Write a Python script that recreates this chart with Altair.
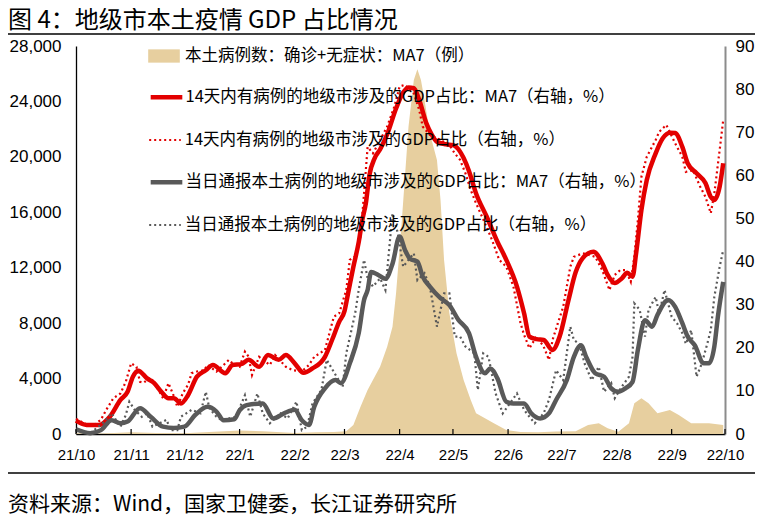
import altair as alt
import pandas as pd

CJK = "Noto Sans CJK SC"
NUM = "Liberation Sans"

TITLE = "图 4：地级市本土疫情 GDP 占比情况"
SOURCE = "资料来源：Wind，国家卫健委，长江证券研究所"

S_AREA = "本土病例数：确诊+无症状：MA7（例）"
S_RED_MA7 = "14天内有病例的地级市涉及的GDP占比：MA7（右轴，%）"
S_RED_RAW = "14天内有病例的地级市涉及的GDP占比（右轴，%）"
S_GRAY_MA7 = "当日通报本土病例的地级市涉及的GDP占比：MA7（右轴，%）"
S_GRAY_RAW = "当日通报本土病例的地级市涉及的GDP占比（右轴，%）"
TAN, RED, GRAY = "#E7CF9F", "#E30000", "#595959"
DOTS = [2, 3]

tick_dates = ["2021-10-01", "2021-11-01", "2021-12-01", "2022-01-01", "2022-02-01",
              "2022-03-01", "2022-04-01", "2022-05-01", "2022-06-01", "2022-07-01",
              "2022-08-01", "2022-09-01", "2022-10-01"]
left_ticks = [0, 4000, 8000, 12000, 16000, 20000, 24000, 28000]
right_ticks = [0, 10, 20, 30, 40, 50, 60, 70, 80, 90]

# 本土病例数 MA7（左轴）
cases_dates = ["2021-10-01", "2021-10-16", "2021-11-01", "2021-11-15", "2021-12-01", "2021-12-15",
               "2022-01-01", "2022-01-14", "2022-02-01", "2022-02-13", "2022-02-23",
               "2022-03-02", "2022-03-06", "2022-03-10", "2022-03-14", "2022-03-17", "2022-03-21",
               "2022-03-25", "2022-03-28", "2022-03-30",
               "2022-04-02", "2022-04-04", "2022-04-06", "2022-04-09", "2022-04-11", "2022-04-13",
               "2022-04-15", "2022-04-18", "2022-04-22", "2022-04-24", "2022-04-26", "2022-04-29",
               "2022-05-03", "2022-05-07", "2022-05-11", "2022-05-14", "2022-05-24", "2022-05-31",
               "2022-06-08", "2022-06-18", "2022-06-28",
               "2022-07-09", "2022-07-16", "2022-07-22", "2022-07-27",
               "2022-08-02", "2022-08-08", "2022-08-11", "2022-08-15", "2022-08-19", "2022-08-24",
               "2022-08-31", "2022-09-05", "2022-09-12", "2022-09-22", "2022-09-30"]
cases_values = [50, 30, 120, 80, 60, 150,
                250, 200, 80, 120, 150,
                200, 650, 1970, 3175, 3900, 4860,
                6300, 7740, 10150,
                14960, 18570, 22170, 25545, 26320, 25545,
                24100, 21700, 19770, 16900, 12560, 8710,
                5820, 3900, 2450, 1490, 770, 290,
                150, 120, 180,
                200, 650, 770, 410,
                170, 770, 2215, 2575, 2215, 1490,
                1730, 1370, 770, 770, 650]

# 14天内有病例的地级市涉及的GDP占比：MA7
red_ma7_dates = ["2021-10-01", "2021-10-07", "2021-10-14", "2021-10-20", "2021-10-26", "2021-10-30",
                 "2021-11-02", "2021-11-05", "2021-11-10", "2021-11-14", "2021-11-18", "2021-11-22",
                 "2021-11-25", "2021-11-29",
                 "2021-12-03", "2021-12-08", "2021-12-13", "2021-12-17", "2021-12-24", "2021-12-28",
                 "2022-01-02", "2022-01-06", "2022-01-12", "2022-01-17", "2022-01-23", "2022-01-27",
                 "2022-02-01", "2022-02-06", "2022-02-11", "2022-02-18", "2022-02-22", "2022-02-26",
                 "2022-03-01", "2022-03-03", "2022-03-06", "2022-03-09", "2022-03-11", "2022-03-13",
                 "2022-03-15", "2022-03-18", "2022-03-21", "2022-03-25", "2022-03-30",
                 "2022-04-03", "2022-04-06", "2022-04-09", "2022-04-12", "2022-04-16", "2022-04-19",
                 "2022-04-22", "2022-04-27",
                 "2022-05-01", "2022-05-05", "2022-05-07", "2022-05-10", "2022-05-14", "2022-05-20",
                 "2022-05-26", "2022-05-31",
                 "2022-06-06", "2022-06-10", "2022-06-13", "2022-06-17", "2022-06-21", "2022-06-26",
                 "2022-06-30",
                 "2022-07-05", "2022-07-09", "2022-07-13", "2022-07-19", "2022-07-24", "2022-07-27",
                 "2022-07-31",
                 "2022-08-04", "2022-08-07", "2022-08-10", "2022-08-12", "2022-08-15", "2022-08-18",
                 "2022-08-23", "2022-08-27", "2022-08-31",
                 "2022-09-03", "2022-09-07", "2022-09-10", "2022-09-15", "2022-09-20", "2022-09-23",
                 "2022-09-25", "2022-09-28", "2022-09-30"]
red_ma7_values = [3.1, 2.1, 2.1, 4.0, 7.9, 9.8,
                  13.3, 14.7, 12.9, 11.8, 9.8, 8.3,
                  8.3, 7.1,
                  9.0, 13.3, 14.8, 16.0, 14.1, 16.0,
                  16.2, 17.2, 15.6, 18.3, 17.2, 18.3,
                  16.4, 14.2, 15.2, 17.9, 21.8, 26.0,
                  28.5, 32.6, 38.8, 44.5, 49.6, 53.5,
                  60.0, 64.0, 66.0, 69.5, 75.5,
                  79.2, 80.4, 80.2, 77.5, 72.1, 69.5,
                  67.8, 67.2,
                  67.0, 65.5, 64.0, 61.0, 55.8, 50.4,
                  44.6, 40.4,
                  34.2, 28.0, 22.6, 22.0, 21.8, 19.5,
                  22.6,
                  31.1, 37.5, 40.8, 42.3, 39.6, 36.9,
                  35.0,
                  36.1, 37.4, 36.5, 41.9, 52.0, 58.9,
                  65.1, 68.6, 69.9,
                  69.8, 66.6, 62.8, 60.5, 58.2, 55.0,
                  54.3, 57.4, 62.8]

# 14天内有病例的地级市涉及的GDP占比（日度）
red_raw_dates = ["2021-10-01", "2021-10-08", "2021-10-12", "2021-10-15", "2021-10-18", "2021-10-22",
                 "2021-10-26", "2021-10-29",
                 "2021-11-01", "2021-11-04", "2021-11-06", "2021-11-08", "2021-11-12", "2021-11-15",
                 "2021-11-19", "2021-11-22", "2021-11-25", "2021-11-27", "2021-11-30",
                 "2021-12-03", "2021-12-05", "2021-12-08", "2021-12-12", "2021-12-14", "2021-12-19",
                 "2021-12-23", "2021-12-26", "2021-12-28",
                 "2022-01-01", "2022-01-04", "2022-01-06", "2022-01-08", "2022-01-12", "2022-01-18",
                 "2022-01-21", "2022-01-27", "2022-01-31",
                 "2022-02-05", "2022-02-09", "2022-02-12", "2022-02-18", "2022-02-23", "2022-02-26",
                 "2022-03-02", "2022-03-04", "2022-03-07", "2022-03-10", "2022-03-12", "2022-03-14",
                 "2022-03-17", "2022-03-19", "2022-03-25", "2022-03-29",
                 "2022-04-01", "2022-04-04", "2022-04-09", "2022-04-12", "2022-04-14", "2022-04-18",
                 "2022-04-24", "2022-04-29",
                 "2022-05-02", "2022-05-05", "2022-05-08", "2022-05-11", "2022-05-14", "2022-05-19",
                 "2022-05-23", "2022-05-27", "2022-05-31",
                 "2022-06-04", "2022-06-08", "2022-06-10", "2022-06-13", "2022-06-17", "2022-06-21",
                 "2022-06-24", "2022-06-26", "2022-06-29",
                 "2022-07-02", "2022-07-06", "2022-07-08", "2022-07-13", "2022-07-16", "2022-07-20",
                 "2022-07-24", "2022-07-28", "2022-07-31",
                 "2022-08-03", "2022-08-06", "2022-08-09", "2022-08-11", "2022-08-13", "2022-08-15",
                 "2022-08-18", "2022-08-23", "2022-08-25", "2022-08-29",
                 "2022-09-03", "2022-09-07", "2022-09-09", "2022-09-13", "2022-09-17", "2022-09-20",
                 "2022-09-23", "2022-09-25", "2022-09-28", "2022-09-30"]
red_raw_values = [3.5, 2.0, 2.3, 3.3, 5.6, 8.3,
                  9.4, 12.1,
                  16.4, 15.6, 12.1, 11.9, 13.1, 11.2,
                  8.3, 11.8, 8.8, 6.3, 9.4,
                  11.4, 14.1, 14.5, 14.8, 16.0, 14.5,
                  16.0, 17.2, 16.4,
                  15.6, 19.1, 18.0, 13.7, 17.9, 16.0,
                  18.3, 15.6, 14.8,
                  14.5, 16.0, 17.9, 19.5, 27.2, 28.0,
                  33.4, 40.4, 41.2, 45.8, 55.8, 66.6,
                  65.1, 66.6, 71.3, 75.9,
                  80.6, 81.0, 79.0, 75.2, 71.3, 69.4,
                  68.2, 67.0,
                  65.1, 63.6, 60.5, 56.6, 53.5, 48.9,
                  45.0, 40.4, 38.8,
                  34.2, 25.7, 23.0, 19.9, 22.6, 20.3,
                  17.2, 21.8, 25.7,
                  29.5, 38.8, 41.1, 41.9, 41.6, 41.1,
                  38.0, 33.4, 36.9,
                  38.0, 38.0, 35.3, 41.1, 49.6, 59.7,
                  64.3, 68.2, 70.1, 71.7,
                  67.4, 64.3, 60.8, 61.2, 57.4, 55.0,
                  51.2, 55.8, 65.9, 72.8]

# 当日通报本土病例的地级市涉及的GDP占比：MA7
gray_ma7_dates = ["2021-10-01", "2021-10-09", "2021-10-15", "2021-10-21", "2021-10-26", "2021-10-30",
                  "2021-11-06", "2021-11-12", "2021-11-19", "2021-11-25",
                  "2021-12-01", "2021-12-07", "2021-12-14", "2021-12-19", "2021-12-23", "2021-12-29",
                  "2022-01-01", "2022-01-05", "2022-01-14", "2022-01-20", "2022-01-26",
                  "2022-02-01", "2022-02-05", "2022-02-09", "2022-02-12", "2022-02-18", "2022-02-24",
                  "2022-02-27",
                  "2022-03-04", "2022-03-09", "2022-03-12", "2022-03-14", "2022-03-16", "2022-03-20",
                  "2022-03-24", "2022-03-28",
                  "2022-04-01", "2022-04-04", "2022-04-07", "2022-04-11", "2022-04-14", "2022-04-18",
                  "2022-04-24", "2022-04-29",
                  "2022-05-04", "2022-05-10", "2022-05-14", "2022-05-19", "2022-05-22", "2022-05-26",
                  "2022-05-31",
                  "2022-06-04", "2022-06-10", "2022-06-14", "2022-06-19", "2022-06-24", "2022-06-28",
                  "2022-07-04", "2022-07-08", "2022-07-12", "2022-07-15", "2022-07-20", "2022-07-25",
                  "2022-07-29",
                  "2022-08-02", "2022-08-06", "2022-08-10", "2022-08-13", "2022-08-17", "2022-08-21",
                  "2022-08-24", "2022-08-30",
                  "2022-09-03", "2022-09-07", "2022-09-10", "2022-09-14", "2022-09-19", "2022-09-22",
                  "2022-09-25", "2022-09-27", "2022-09-30"]
gray_ma7_values = [1.1, 0.2, 0.9, 3.2, 2.5, 2.9,
                   6.0, 4.0, 1.7, 1.4,
                   1.7, 4.4, 6.3, 5.2, 3.2, 3.4,
                   5.5, 6.7, 7.1, 3.6, 4.8,
                   5.6, 3.2, 2.1, 6.3, 10.6, 12.5,
                   11.8,
                   16.4, 23.4, 31.1, 33.4, 37.6, 36.9,
                   36.0, 39.5,
                   45.8, 42.7, 40.6, 40.0, 36.5, 34.2,
                   31.5, 29.9,
                   26.5, 23.4, 17.9, 14.1, 15.2, 12.9,
                   7.5,
                   7.1, 7.1, 4.8, 3.6, 4.8, 7.9,
                   12.5, 17.9, 20.6, 17.8, 14.1, 13.3,
                   10.6,
                   9.8, 10.6, 12.1, 19.5, 26.4, 24.9,
                   27.6, 31.1,
                   29.5, 25.7, 22.6, 20.6, 16.4, 16.4,
                   20.3, 27.2, 35.3]

# 当日通报本土病例的地级市涉及的GDP占比（日度）
gray_raw_dates = ["2021-10-01", "2021-10-09", "2021-10-16", "2021-10-21", "2021-10-26", "2021-10-29",
                  "2021-10-31",
                  "2021-11-03", "2021-11-07", "2021-11-10", "2021-11-13", "2021-11-17", "2021-11-21",
                  "2021-11-23", "2021-11-27", "2021-11-29",
                  "2021-12-02", "2021-12-05", "2021-12-10", "2021-12-13", "2021-12-15", "2021-12-19",
                  "2021-12-22", "2021-12-26", "2021-12-30",
                  "2022-01-04", "2022-01-07", "2022-01-11", "2022-01-14", "2022-01-18", "2022-01-24",
                  "2022-01-28",
                  "2022-02-02", "2022-02-05", "2022-02-08", "2022-02-11", "2022-02-16", "2022-02-19",
                  "2022-02-24", "2022-02-28",
                  "2022-03-02", "2022-03-07", "2022-03-09", "2022-03-12", "2022-03-14", "2022-03-17",
                  "2022-03-21", "2022-03-24", "2022-03-28", "2022-03-31",
                  "2022-04-03", "2022-04-06", "2022-04-09", "2022-04-11", "2022-04-15", "2022-04-18",
                  "2022-04-22", "2022-04-26", "2022-04-29",
                  "2022-05-02", "2022-05-05", "2022-05-08", "2022-05-13", "2022-05-15", "2022-05-18",
                  "2022-05-21", "2022-05-25", "2022-05-29",
                  "2022-06-02", "2022-06-06", "2022-06-10", "2022-06-13", "2022-06-16", "2022-06-21",
                  "2022-06-24", "2022-06-28",
                  "2022-07-02", "2022-07-06", "2022-07-08", "2022-07-11", "2022-07-14", "2022-07-18",
                  "2022-07-22", "2022-07-25", "2022-07-29", "2022-07-31",
                  "2022-08-04", "2022-08-08", "2022-08-10", "2022-08-11", "2022-08-14", "2022-08-17",
                  "2022-08-19", "2022-08-23", "2022-08-25", "2022-08-28",
                  "2022-09-01", "2022-09-04", "2022-09-07", "2022-09-09", "2022-09-12", "2022-09-15",
                  "2022-09-18", "2022-09-21", "2022-09-23", "2022-09-25", "2022-09-28", "2022-09-30"]
gray_raw_values = [0.9, 0.2, 2.5, 4.8, 1.7, 4.4,
                   7.5,
                   5.6, 4.0, 4.8, 1.7, 2.5, 3.3,
                   0.9, 0.9, 4.0,
                   4.8, 5.6, 4.8, 9.8, 6.0, 4.0,
                   3.2, 3.6, 4.0,
                   9.0, 4.0, 9.4, 4.8, 2.5, 4.8,
                   3.6,
                   7.5, 0.9, 1.7, 7.1, 10.2, 17.2,
                   13.7, 11.0,
                   18.7, 28.0, 33.4, 40.4, 36.1, 34.2,
                   36.1, 33.4, 51.2, 46.6,
                   38.8, 40.4, 41.9, 35.7, 37.3, 34.2,
                   24.9, 32.6, 32.6,
                   22.6, 22.6, 20.3, 18.7, 10.2, 18.7,
                   17.9, 9.4, 4.8,
                   7.1, 9.4, 5.6, 4.0, 2.5, 4.8,
                   7.9, 14.8,
                   12.5, 24.9, 21.8, 20.9, 16.4, 12.5,
                   15.6, 9.8, 11.8, 8.3,
                   11.0, 13.3, 17.9, 30.3, 28.8, 22.6,
                   28.8, 31.8, 27.9, 33.4,
                   27.2, 25.7, 23.4, 20.9, 24.1, 13.3,
                   16.4, 20.9, 24.1, 31.8, 38.8, 42.7]

W, H = 649, 388
PAD_L, PAD_T, PAD_R, PAD_B = 68, 38, 30, 85
LEG_X = 72
LEG_ROWS = [10, 51, 93, 136, 178]   # legend row centres (px from plot top)
LEG_SHIFT = -16


def utc_dt(s):
    y, m, d = (int(p) for p in s.split("-"))
    return alt.DateTime(year=y, month=m, date=d, utc=True)


x_scale = alt.Scale(type="utc", domain=[utc_dt(tick_dates[0]), utc_dt(tick_dates[-1])])
x_axis = alt.Axis(values=[utc_dt(s) for s in tick_dates],
                  labelExpr="utcFormat(datum.value, '%y/%-m')",
                  title=None, grid=False, ticks=False, tickSize=0,
                  labelFlush=False, labelOverlap=False, labelBound=False,
                  labelPadding=13, labelFont=NUM, labelFontSize=15, labelColor="black",
                  domainColor="black", domainWidth=1.3)


def xenc():
    return alt.X("date:T", scale=x_scale, axis=x_axis)


def leg(i, sw, **kw):
    return alt.Legend(title=None, orient="none", legendX=LEG_X,
                      legendY=LEG_ROWS[i] + LEG_SHIFT - (sw / 2 if sw > 3 else 0),
                      symbolSize=1000, symbolOpacity=1, labelFont=CJK, labelFontSize=16.5,
                      labelColor="black", labelLimit=700, labelOffset=max(5 - sw, 0.5),
                      padding=0, **kw)


left_axis = alt.Axis(orient="left", values=left_ticks, format=",.0f", title=None, grid=False,
                     ticks=False, tickSize=0, labelPadding=15, labelFont=NUM, labelFontSize=17,
                     labelColor="black", domainColor="black", domainWidth=1.3)
right_axis = alt.Axis(orient="right", values=right_ticks, format="d", title=None, grid=False,
                      ticks=False, tickSize=0, labelPadding=10, labelFont=NUM, labelFontSize=17,
                      labelColor="black", domainColor="#8C8C8C", domainWidth=2)

cases_df = pd.DataFrame({"date": cases_dates, "cases": cases_values, "series": S_AREA})
area = alt.Chart(cases_df).mark_area(interpolate="linear").encode(
    x=xenc(),
    y=alt.Y("cases:Q", scale=alt.Scale(domain=[0, 28000]), axis=left_axis),
    fill=alt.Fill("series:N", scale=alt.Scale(domain=[S_AREA], range=[TAN]),
                  legend=leg(0, 0, symbolType="M-1,-0.42H1V0.42H-1Z", symbolStrokeWidth=0)),
)


def yenc():
    return alt.Y("value:Q", scale=alt.Scale(domain=[0, 90]), axis=right_axis)


def frame(dates, values, name):
    return pd.DataFrame({"date": dates, "value": values, "series": name})


red_raw = alt.Chart(frame(red_raw_dates, red_raw_values, S_RED_RAW)).mark_line(
    color=RED, strokeWidth=2.2, strokeCap="butt").encode(
    x=xenc(), y=yenc(),
    strokeDash=alt.StrokeDash("series:N", scale=alt.Scale(domain=[S_RED_RAW], range=[DOTS]),
                              legend=leg(2, 2.2, symbolType="stroke", symbolStrokeColor=RED,
                                         symbolStrokeWidth=2.2)),
)
red_ma7 = alt.Chart(frame(red_ma7_dates, red_ma7_values, S_RED_MA7)).mark_line(
    strokeWidth=4.5, interpolate="monotone").encode(
    x=xenc(), y=yenc(),
    stroke=alt.Stroke("series:N", scale=alt.Scale(domain=[S_RED_MA7], range=[RED]),
                      legend=leg(1, 4.5, symbolType="stroke", symbolStrokeWidth=4.5)),
)
gray_raw = alt.Chart(frame(gray_raw_dates, gray_raw_values, S_GRAY_RAW)).mark_line(
    color=GRAY, strokeDash=DOTS, strokeCap="butt").encode(
    x=xenc(), y=yenc(),
    strokeWidth=alt.StrokeWidth("series:N", scale=alt.Scale(domain=[S_GRAY_RAW], range=[2.2, 2.2]),
                                legend=leg(4, 2.2, symbolType="stroke", symbolStrokeColor=GRAY,
                                           symbolDash=DOTS)),
)
gray_ma7 = alt.Chart(frame(gray_ma7_dates, gray_ma7_values, S_GRAY_MA7)).mark_line(
    color=GRAY, strokeWidth=4.5, interpolate="monotone").encode(
    x=xenc(), y=yenc(),
    opacity=alt.Opacity("series:N", scale=alt.Scale(domain=[S_GRAY_MA7], range=[1, 1]),
                        legend=leg(3, 4.5, symbolType="stroke", symbolStrokeColor=GRAY,
                                   symbolStrokeWidth=4.5)),
)

lines = alt.layer(red_raw, red_ma7, gray_raw, gray_ma7)

one = pd.DataFrame({"k": [0]})
ticks_df = pd.DataFrame({"date": tick_dates})
x_ticks = alt.Chart(ticks_df).mark_rule(color="black", strokeWidth=1.2).encode(
    x=xenc(), y=alt.value(H), y2=alt.value(H - 5))

top_rule = alt.Chart(one).mark_rule(color="black", strokeWidth=1.3).encode(
    x=alt.value(-PAD_L), x2=alt.value(W + PAD_R), y=alt.value(-12))
bottom_rule = alt.Chart(one).mark_rule(color="black", strokeWidth=1.3).encode(
    x=alt.value(-PAD_L), x2=alt.value(W + PAD_R), y=alt.value(427))
title_text = alt.Chart(one).mark_text(text=TITLE, align="left", baseline="middle", font=CJK,
                                      fontSize=24, color="black").encode(
    x=alt.value(-PAD_L), y=alt.value(-25))
source_text = alt.Chart(one).mark_text(text=SOURCE, align="left", baseline="middle", font=CJK,
                                       fontSize=21, color="black").encode(
    x=alt.value(-PAD_L), y=alt.value(459))

chart = alt.layer(area, lines, x_ticks, top_rule, bottom_rule, title_text, source_text).resolve_scale(
    y="independent"
).properties(
    width=W, height=H,
    autosize=alt.AutoSizeParams(type="none"),
    padding={"left": PAD_L, "top": PAD_T, "right": PAD_R, "bottom": PAD_B},
).configure_view(stroke=None)

chart.save("out.html", embed_options={"renderer": "svg", "actions": False})
